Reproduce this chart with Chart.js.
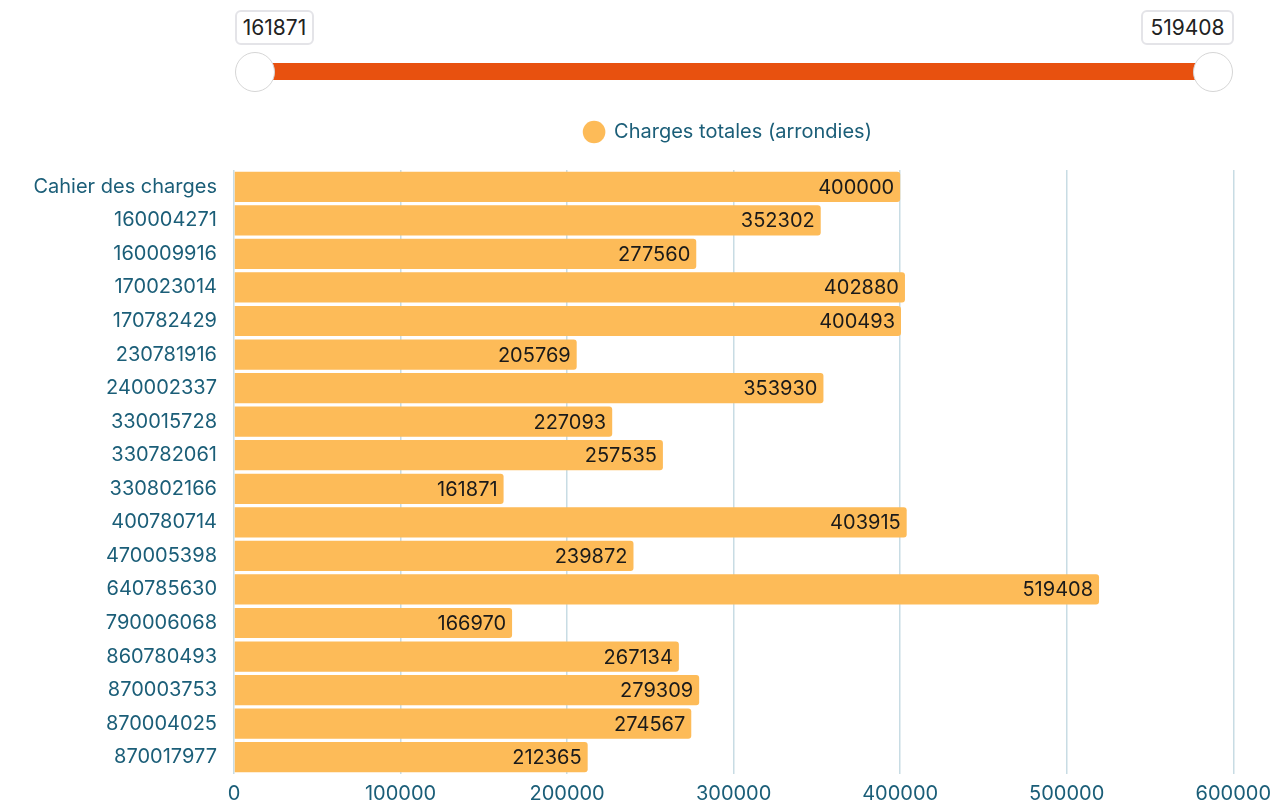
<!DOCTYPE html>
<html>
<head>
<meta charset="utf-8">
<script src="https://cdn.jsdelivr.net/npm/chart.js@4/dist/chart.umd.min.js"></script>
<style>
  html, body { margin: 0; padding: 0; background: #fff; }
  body { width: 1279px; height: 800px; position: relative; overflow: hidden; font-family: Inter, "DejaVu Sans", sans-serif; }
  .val { position: absolute; top: 10px; height: 31px; border: 2px solid #e4e4e8; border-radius: 6px; font-size: 21px; color: #222; line-height: 31px; text-align: center; background: #fff; }
  #track { position: absolute; left: 255px; top: 63px; width: 958px; height: 17px; background: #e8510f; }
  .knob { position: absolute; top: 52px; width: 38px; height: 38px; border-radius: 50%; background: #fff; border: 1.5px solid #d6d6d6; }
  #wrap { position: absolute; left: 0; top: 102px; width: 1279px; height: 698px; }
</style>
</head>
<body>
<div class="val" style="left:235px;width:75px;">161871</div>
<div class="val" style="left:1141px;width:89px;">519408</div>
<div id="track"></div>
<div class="knob" style="left:235px;"></div>
<div class="knob" style="left:1193px;"></div>
<div id="wrap"><canvas id="chart"></canvas></div>
<script>
// categories and values (charges totales, arrondies)
var labels = ['Cahier des charges', '160004271', '160009916', '170023014', '170782429', '230781916',
  '240002337', '330015728', '330782061', '330802166', '400780714', '470005398', '640785630',
  '790006068', '860780493', '870003753', '870004025', '870017977'];
var charges = [400000, 352302, 277560, 402880, 400493, 205769, 353930, 227093, 257535, 161871,
  403915, 239872, 519408, 166970, 267134, 279309, 274567, 212365];
var xTicks = [0, 100000, 200000, 300000, 400000, 500000, 600000];

var teal = '#1b5e78';
var fontFam = 'Inter, "DejaVu Sans", sans-serif';

// value written inside the end of each bar
var barValues = {
  id: 'barValues',
  afterDatasetsDraw: function(chart) {
    var ctx = chart.ctx;
    var meta = chart.getDatasetMeta(0);
    ctx.save();
    ctx.font = '20px ' + fontFam;
    ctx.fillStyle = '#1a1a1a';
    ctx.textAlign = 'right';
    ctx.textBaseline = 'middle';
    meta.data.forEach(function(bar, i) {
      ctx.fillText(String(charges[i]), bar.x - 6, bar.y + 1);
    });
    ctx.restore();
  }
};

// more room under the legend, and legend centred over the plot area
var legendSpace = {
  id: 'legendSpace',
  beforeInit: function(chart) {
    var orig = chart.legend.fit;
    chart.legend.fit = function() {
      orig.call(this);
      this.height += 18;
    };
  },
  afterLayout: function(chart) {
    chart.legend.left += 177;
  }
};

var c = document.getElementById('chart').getContext('2d');
var chart = new Chart(c, {
  type: 'bar',
  data: {
    labels: labels,
    datasets: [{
      label: 'Charges totales (arrondies)',
      data: charges,
      backgroundColor: '#fdbb58',
      borderRadius: 3,
      borderSkipped: 'start',
      barPercentage: 0.9,
      categoryPercentage: 1.0
    }]
  },
  options: {
    indexAxis: 'y',
    responsive: true,
    maintainAspectRatio: false,
    animation: false,
    layout: { padding: 0 },
    plugins: {
      legend: {
        position: 'top',
        labels: {
          usePointStyle: true,
          pointStyle: 'circle',
          boxHeight: 16,
          color: teal,
          font: { size: 20, family: fontFam },
          padding: 20
        }
      },
      tooltip: { enabled: false }
    },
    scales: {
      x: {
        min: 0,
        max: 600000,
        afterBuildTicks: function(s) { s.ticks = xTicks.map(function(v) { return { value: v }; }); },
        afterFit: function(s) { s.height = 26; },
        grid: { color: '#c8dce4', drawTicks: false, lineWidth: 1.5 },
        border: { display: false },
        ticks: {
          color: teal, font: { size: 20, family: fontFam }, padding: 8, maxRotation: 0,
          callback: function(v) { return String(v); }
        }
      },
      y: {
        grid: { display: false },
        border: { display: false },
        afterFit: function(s) { s.width = 234; },
        ticks: { color: teal, font: { size: 20, family: fontFam }, padding: 9, autoSkip: false }
      }
    }
  },
  plugins: [barValues, legendSpace]
});
</script>
</body>
</html>
